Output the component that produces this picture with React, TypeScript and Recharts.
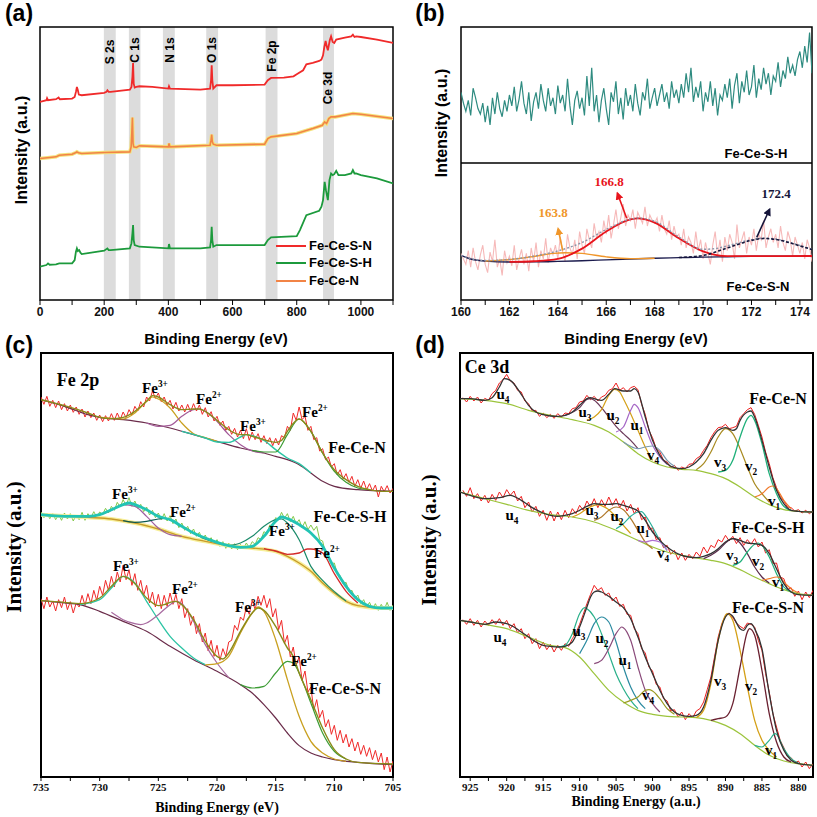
import React from 'react'
import { ComposedChart, Line, XAxis, YAxis, ReferenceArea } from 'recharts'

type Pair = [number, number]
const pts = (a: Pair[]) => a.map(([x, y]) => ({ x, y }))
const grid = (start: number, step: number, ys: number[]) =>
  ys.map((y, i) => ({ x: Math.round((start + i * step) * 100) / 100, y }))

const SANS = '"Liberation Sans", Arial, sans-serif'
const NARROW = '"Liberation Sans Narrow", "Liberation Sans", Arial, sans-serif'
const SERIF = '"Liberation Serif", "Times New Roman", serif'

// ---------- (a) survey spectra ----------
const surveyBands: Pair[] = [[199, 236], [277, 313], [383, 420], [518, 555], [703, 740], [882, 916]]
const surveySN: Pair[] = [[0,59.5],[20,60],[22,60.6],[25,60],[50,60.3],[58,60.8],[62,60.3],[100,60.5],[108,61],[112,62.5],[115,64],[118,63],[121,61.7],[130,61.5],[200,62.2],[207,62.5],[210,63],[214,62.5],[220,62.5],[280,63.2],[285,64],[288,67],[290,71.2],[292,65],[295,63.8],[300,64],[310,64.2],[350,64],[400,63.5],[402,64.2],[405,63.5],[500,63.2],[530,63.5],[533,66],[535,70.5],[537,66],[540,63.5],[550,64.5],[600,64.5],[700,64.7],[710,66],[720,66.7],[760,66.8],[790,67.2],[800,67.8],[820,69],[830,70.8],[850,71.2],[870,71.8],[877,72.2],[882,73.5],[886,76],[890,77.8],[894,76],[897,75],[903,78],[907,79.2],[912,77.5],[917,77.2],[923,78.2],[950,78.8],[970,79.2],[975,79.7],[980,79],[985,79.2],[1000,79],[1050,78.2],[1100,77.2]]
const surveySH: Pair[] = [[0,10],[20,10.5],[25,11],[30,10.6],[50,10.7],[60,11],[100,11],[108,12],[112,14.5],[115,15.5],[118,14.7],[122,15],[126,14.2],[130,13.8],[200,14.8],[210,15.5],[214,15],[220,15],[280,15.5],[285,17],[288,20],[290,22.5],[292,18],[295,16.5],[310,16],[400,15.5],[402,16.8],[405,15.5],[500,15.5],[530,15.8],[533,18],[535,22],[537,18],[540,16],[550,16.5],[700,16.5],[710,18],[720,18.8],[800,19.2],[810,21],[830,25.5],[870,26.8],[877,28],[882,30],[887,35.5],[891,33],[897,30],[902,36],[907,38],[912,37.5],[917,37.8],[923,38.8],[930,37.5],[950,37.5],[970,38],[975,39],[980,38],[985,38],[1000,37.5],[1050,36.5],[1100,35]]
const surveyN: Pair[] = [[0,42.5],[30,42.8],[50,43],[60,43.5],[100,43.8],[112,44.3],[115,44.5],[120,44.2],[130,44],[200,44.3],[280,44.5],[284,46],[286,50],[288,54.8],[290,47],[292,46],[300,45.8],[310,46.3],[400,46],[402,47],[405,46],[530,46.5],[533,48],[535,49.7],[537,47.5],[540,46.8],[550,46.5],[700,46.8],[710,48.5],[720,49],[800,50],[850,51.5],[880,52.5],[887,53.5],[893,53],[900,54.5],[907,55],[920,55],[975,56],[1000,55.8],[1100,54.5]]
const surveyTicks = [0,100,200,300,400,500,600,700,800,900,1000,1100]

// ---------- (b) S 2p ----------
const sHY = [
  52,44,38,46,35,55,48,40,36,44, 30,42,28,48,36,52,40,34,46,38,
  50,42,56,38,47,60,44,36,52,31, 45,52,40,58,46,38,55,42,48,36,
  57,44,50,38,62,42,28,46,53,40, 48,35,64,42,70,38,50,30,46,55,
  40,28,52,45,60,36,48,32,55,42, 50,38,58,44,35,52,46,62,40,48,
  55,42,50,58,45,52,40,60,48,54, 44,58,48,66,52,70,45,56,48,60,
  38,52,45,60,42,55,35,50,46,58, 48,62,40,57,66,44,60,52,68,50,
  56,72,48,62,54,70,58,66,50,64, 60,74,56,68,62,78,66,72,64,76,
  82,70,86,74,96,66]
const sNRawY = [
  34,30,26,36,24,38,28,22,33,40, 26,20,35,28,44,24,30,18,36,27,
  32,25,40,22,30,37,26,34,21,38, 28,42,24,36,30,45,27,38,33,40,
  30,46,35,28,48,38,33,44,30,50, 40,34,52,44,38,56,45,50,42,58,
  48,62,45,55,66,52,60,70,54,62, 58,66,52,64,60,56,68,54,62,58,
  56,60,50,62,52,48,58,44,54,46, 48,40,52,38,46,42,34,50,36,44,
  30,42,34,26,40,50,32,44,28,46, 36,48,42,30,55,38,44,50,34,46,
  40,52,36,48,44,58,38,46,52,42, 48,38,54,42,36,50,44,32,46,40,
  34,42,30,44,38,28]
const sBase: Pair[] = [[160,32.6],[160.3,30.5],[160.6,29.2],[161,28.4],[162,27.7],[163,27.8],[164,28.2],[165,28.7],[166,29.3],[167,29.9],[168,30.5],[169,30.9],[170,31.3],[171,31.6],[172,31.9],[173,32],[174.5,32.1]]
const s1638: Pair[] = [[161,28.5],[162,29.5],[163,31.8],[163.8,34],[164.3,34.5],[165,34],[166,31.5],[167,30.2],[168,30.5]]
const s1668: Pair[] = [[162,27.8],[163,28.3],[164,30],[165,37.5],[166,50],[167,58.8],[167.3,59.6],[168,56.5],[169,45],[170,35.5],[170.5,33],[171,32],[172,32],[174.5,32.1]]
const s1724: Pair[] = [[169,31],[170,32.5],[171,38],[172,43.5],[172.5,44.9],[173,44.2],[174,39.5],[174.5,36.8]]
const sEnv: Pair[] = [[160,32.6],[160.5,29.8],[161,28.8],[162,29.6],[163,32],[164,35.8],[165,42],[166,51.5],[167,59],[167.3,59.8],[168,57.5],[169,46],[170,37],[170.5,37.5],[171,39.5],[172,44],[172.5,45.2],[173,44.5],[174,39.8],[174.5,37]]
const sTicks = [160,161,162,163,164,165,166,167,168,169,170,171,172,173,174]

// ---------- (c) Fe 2p ----------
const feNRaw = [
  1140,1118,1142,1112,1130,1108,1128,1102,1120,1098, 1116,1094,1110,1088,1104,1080,1098,1078,1092,1070,
  1086,1066,1084,1068,1090,1070,1092,1072,1095,1078, 1102,1086,1112,1098,1126,1110,1140,1128,1158,1136,
  1152,1126,1140,1115,1130,1104,1124,1098,1116,1095, 1118,1096,1120,1098,1116,1088,1108,1080,1096,1068,
  1082,1055,1068,1040,1052,1028,1046,1020,1040,1015, 1045,1010,1035,1012,1030,1004,1024,1000,1018,994,
  1016,996,1024,1018,1052,1040,1092,1070,1110,1072, 1082,1040,1052,1012,1018,978,985,952,960,930,
  940,906,922,894,910,884,902,872,892,866, 888,862,880,858,876,840,872,856,874,852, 866]
const feNEnv: Pair[] = [[735,1132],[733,1114],[731,1092],[730,1079],[729,1075],[728,1079],[727,1097],[726,1127],[725.5,1144],[725,1140],[724,1117],[723,1102],[722,1104],[721.5,1104],[721,1097],[720,1070],[719,1042],[718,1027],[717.5,1027],[717,1022],[716,1012],[715,1004],[714.5,1010],[714,1037],[713,1074],[712,1037],[711,972],[710,922],[709,892],[708,872],[707,862],[706,857],[705,857]]
const feNBkg: Pair[] = [[735,1132],[733,1112],[731,1087],[730,1079],[728,1072],[726,1062],[724,1047],[722,1027],[720,1007],[718,987],[716,972],[715,962],[714,952],[713,937],[712,912],[711,887],[710,872],[708,862],[705,857]]
const feN3a: Pair[] = [[730,1080],[729,1076],[728,1074],[727,1092],[726,1127],[725.5,1140],[725,1134],[724,1107],[723,1062],[722,1030],[721,1018],[720,1007]]
const feN2a: Pair[] = [[726,1062],[725,1052],[724,1055],[723,1082],[722,1102],[721.5,1104],[721,1097],[720,1067],[719,1027],[718,997],[717,978],[716,972]]
const feN3b: Pair[] = [[723,1037],[722,1028],[721,1017],[720,1005],[719,1004],[718,1020],[717.5,1027],[717,1024],[716,1010],[715,982],[714,957],[713,940],[712,912]]
const feN2b: Pair[] = [[717,980],[716,975],[715,975],[714,1027],[713,1074],[712,1037],[711,972],[710,917],[709,884],[708,867],[707,862]]

const feSHRaw = [
  795,778,792,775,790,772,788,770,792,774, 790,768,786,772,794,770,790,778,796,780,
  795,788,806,792,812,800,824,810,832,815, 838,812,828,806,818,796,810,786,800,778,
  792,772,790,768,784,760,774,748,762,740, 752,730,744,722,734,712,726,706,718,698,
  712,692,706,686,702,684,700,682,698,684, 702,688,706,698,718,712,736,730,756,752,
  778,772,794,776,790,766,782,760,772,748, 766,742,756,740,752,712,708,672,668,640,
  642,610,604,580,584,556,560,536,546,520, 532,510,524,504,520,500,518,502,524,500, 516]
const feSHEnv: Pair[] = [[735,787],[733,782],[731,782],[730,787],[729,802],[728,817],[727.5,822],[727,817],[726,802],[725,782],[724.5,777],[724,772],[723,752],[722,732],[721,717],[720,704],[719,694],[718,689],[717,692],[716,722],[715,767],[714.5,780],[714,775],[713,757],[712,732],[711,692],[710,627],[709,572],[708,532],[707,512],[706,507],[705,507]]
const feSHBkg: Pair[] = [[735,787],[731,779],[729,774],[727,762],[725,744],[723,722],[721,707],[719,694],[717,687],[715,677],[714,662],[713,642],[712,617],[711,582],[710,552],[709,527],[708,514],[706,507],[705,507]]
const feSH3a: Pair[] = [[731,779],[730,787],[729,800],[728,817],[727,812],[726,782],[725,747],[724,727],[723,722]]
const feSH2a: Pair[] = [[728,769],[727,764],[726,767],[725,774],[724.5,776],[724,772],[723,752],[722,732],[721,714],[720,704]]
const feSH3b: Pair[] = [[719,694],[718,702],[717,722],[716,752],[715,772],[714.5,774],[714,762],[713,712],[712,632],[711,590],[710,556],[709,528]]
const feSH2b: Pair[] = [[716,685],[715,678],[714,668],[713,672],[712.3,684],[712,684],[711,672],[710,610],[709,557],[708,522]]

const feSNRaw = [
  535,505,540,510,528,498,532,508,540,502, 526,492,522,510,545,515,550,520,560,530,
  572,545,590,560,602,570,615,585,635,592, 622,575,610,560,590,545,575,522,555,510,
  548,505,545,512,552,518,548,505,535,478, 505,455,482,430,460,405,432,378,410,362,
  395,350,385,362,405,410,455,440,480,470, 510,488,530,502,542,515,545,508,535,480,
  505,442,470,400,425,360,390,335,360,290, 318,255,270,200,232,178,200,150,172,128,
  155,110,140,102,128,90,115,78,105,68, 95,62,88,52,80,45,72,22,60,15, 48]
const feSNEnv: Pair[] = [[735,529],[733,524],[731.7,520],[730,537],[729,572],[728,602],[727,580],[726,537],[725,514],[724.5,517],[724,524],[723.5,527],[723,517],[722,472],[721,407],[720,362],[719.5,354],[719,372],[718,437],[717,492],[716.5,507],[716,500],[715,452],[714,387],[713.5,362],[713,312],[712,232],[711,147],[710,82],[709,54],[708,44],[705,39]]
const feSNBkg: Pair[] = [[735,529],[733,522],[731.7,517],[730,497],[728,467],[726,437],[724,392],[722,352],[720,317],[718,277],[717,252],[716,217],[715,177],[714,132],[713,94],[712,72],[711,60],[710,52],[708,44],[705,37]]
const feSN3a: Pair[] = [[731.7,517],[730,532],[729,567],[728,602],[727,582],[726,527],[725,472],[724,422],[723,387],[722,357],[721,337]]
const feSN2a: Pair[] = [[729,494],[728,472],[727,460],[726.5,457],[726,462],[725,487],[724,517],[723.5,527],[723,520],[722,467],[721,397],[720,342],[719,298]]
const feSN3b: Pair[] = [[721,336],[720,340],[719,362],[718,432],[717,492],[716.5,510],[716,497],[715,412],[714,292],[713,182],[712,107],[711,72],[710,54],[709,47]]
const feSN2b: Pair[] = [[718,277],[717,267],[716,272],[715,312],[714,347],[713.5,342],[713,312],[712,222],[711,132],[710,77],[709,54]]
const feTicks = [705,707.5,710,712.5,715,717.5,720,722.5,725,727.5,730,732.5,735]

// ---------- (d) Ce 3d ----------
const ceNRaw = [
  1138,1125,1142,1128,1140,1122,1136,1130,1150,1160, 1182,1192,1208,1188,1182,1160,1155,1128,1120,1098,
  1100,1082,1092,1078,1088,1076,1090,1080,1092,1090, 1105,1108,1125,1128,1145,1132,1142,1128,1140,1145,
  1160,1165,1182,1160,1168,1155,1168,1172,1162,1118, 1088,1040,1018,985,975,950,945,928,935,920,
  930,925,938,940,955,962,980,995,1018,1035, 1048,1050,1058,1045,1048,1052,1078,1090,1102,1108,
  1088,1055,1020,975,940,898,868,842,828,810, 808,798,802,792,800,790,798]
const ceNEnv: Pair[] = [[926.4,1135],[925,1135],[923,1130],[922,1138],[921,1170],[920.3,1195],[919.5,1190],[918,1148],[917,1115],[916,1095],[915,1087],[914,1083],[913,1082],[912,1085],[911,1095],[910,1115],[909,1135],[908.5,1138],[908,1135],[907,1130],[906,1148],[905.2,1165],[904,1158],[903,1158],[902.5,1165],[902,1155],[901,1080],[900,1010],[899,965],[898,940],[897,928],[896,925],[895,930],[894,945],[893,970],[892,1010],[891,1040],[890,1048],[889,1040],[888.5,1045],[888,1070],[887,1095],[886.5,1098],[886,1080],[885,1010],[884,930],[883,860],[882,820],[881,800],[880,797],[878,795]]
const ceNBkg: Pair[] = [[926.4,1135],[923,1130],[920,1120],[917,1100],[914,1085],[911,1072],[908,1055],[906,1035],[904,1005],[902,970],[900,945],[898,930],[896,923],[894,920],[892,910],[890,895],[888,870],[886,840],[884,817],[882,802],[880,797],[878,795]]
const ceNu3: Pair[] = [[912,1085],[910,1108],[909,1133],[908.5,1135],[908,1130],[907,1108],[906,1080],[905,1052],[904,1030],[903,1010],[902,985]]
const ceNu2: Pair[] = [[909,1070],[908,1080],[907,1102],[906,1145],[905.2,1163],[904.5,1155],[904,1135],[903,1090],[902,1040],[901,990],[900,950]]
const ceNu1: Pair[] = [[905,1035],[904,1050],[903,1100],[902.5,1118],[902,1108],[901,1050],[900,995],[899,960],[898,938]]
const ceNv4: Pair[] = [[904,1005],[902,985],[901,990],[900,993],[899,980],[898,950],[897,932]]
const ceNv3: Pair[] = [[894,922],[893,940],[892,975],[891,1020],[890,1045],[889,1030],[888,985],[887,930],[886,880],[885,850],[884,825]]
const ceNv2: Pair[] = [[891,915],[890,920],[889,950],[888,1020],[887,1075],[886.5,1085],[886,1070],[885,1000],[884,910],[883,850],[882,812],[881,800]]
const ceNv1: Pair[] = [[886,840],[885,850],[884,870],[883.5,873],[883,865],[882,830],[881,805]]

const ceSHRaw = [
  860,842,868,835,850,828,845,822,848,830, 855,838,862,845,858,828,842,808,825,795,
  812,782,800,770,798,768,795,772,800,778, 805,790,815,800,828,810,835,808,832,812,
  840,815,835,808,830,798,818,790,808,772, 780,742,748,712,718,688,695,668,680,652,
  672,650,668,655,675,662,690,672,695,688, 712,705,725,708,722,700,718,695,712,698,
  715,690,705,672,682,640,642,600,595,562, 568,542,558,532,555,538,560]
const ceSHEnv: Pair[] = [[926.4,855],[925,845],[923,835],[921,838],[919.5,845],[918,830],[917,815],[916,802],[915,792],[914,785],[913,782],[912,785],[911,790],[910,800],[909,812],[908,820],[907,818],[906,818],[905,820],[904,815],[903,808],[902,798],[901,770],[900,735],[899,710],[898,690],[897,675],[896,665],[895,660],[894,658],[893,662],[892,670],[891,685],[890,705],[889,715],[888,710],[887,702],[886,700],[885,695],[884,670],[883,625],[882,580],[881,555],[880,547],[878,545]]
const ceSHBkg: Pair[] = [[926.4,855],[923,835],[920,818],[917,800],[914,787],[911,780],[908,765],[905,740],[902,710],[900,690],[898,675],[896,665],[894,657],[892,650],[890,640],[888,622],[886,600],[884,580],[882,562],[880,550],[878,545]]
const ceSHu3: Pair[] = [[911,780],[910,790],[909,805],[908,815],[907.5,817],[907,814],[906,802],[905,780],[904,755],[903,730]]
const ceSHu2: Pair[] = [[908,770],[907,780],[906,800],[905,810],[904,802],[903,775],[902,740],[901,705],[900,685]]
const ceSHu1: Pair[] = [[905,745],[904,760],[903,782],[902,795],[901.5,796],[901,785],[900,750],[899,710],[898,680]]
const ceSHv4: Pair[] = [[902,710],[901,705],[900,710],[899,705],[898,680]]
const ceSHv3: Pair[] = [[893,655],[892,665],[891,680],[890,702],[889,715],[888,702],[887,670],[886,630],[885,600],[884,582]]
const ceSHv2: Pair[] = [[889,635],[888,645],[887,675],[886,698],[885.5,702],[885,695],[884,660],[883,610],[882,570],[881,555]]
const ceSHv1: Pair[] = [[885,590],[884,595],[883,600],[882.5,598],[882,585],[881,565],[880,552]]

const ceSNRaw = [
  472,458,475,455,470,450,468,455,472,458, 475,455,470,445,460,432,445,415,430,400,
  415,385,405,382,398,375,395,380,400,392, 415,432,458,488,520,548,575,560,568,545,
  552,528,540,512,518,488,485,445,430,385, 372,330,318,278,270,235,228,198,202,180,
  195,172,190,178,198,205,225,262,300,360, 420,460,485,492,478,462,452,445,462,458,
  450,410,380,310,255,190,150,110,88,62, 58,42,48,30,45,25,40]
const ceSNEnv: Pair[] = [[926.4,470],[925,465],[923,458],[921.5,465],[920,460],[919,450],[918,435],[917,420],[916,405],[915,395],[914,392],[913,390],[912,392],[911,405],[910,450],[909,510],[908.5,540],[908,555],[907.5,558],[907,555],[906,542],[905,525],[904,508],[903,475],[902,420],[901,360],[900,310],[899,260],[898,220],[897,195],[896,185],[895,182],[894,185],[893,210],[892,290],[891,410],[890,480],[889.5,490],[889,482],[888,445],[887.5,440],[887,455],[886.5,460],[886,445],[885,385],[884,250],[883,140],[882,80],[881,50],[880,40],[878,35]]
const ceSNBkg: Pair[] = [[926.4,470],[923,458],[920,445],[917,420],[914,395],[912,388],[910,360],[908,310],[906,260],[904,225],[902,200],[900,188],[898,182],[896,180],[894,178],[892,170],[890,155],[888,130],[886,95],[884,65],[882,48],[880,40],[878,35]]
const ceSNu3: Pair[] = [[913,390],[912,395],[911,430],[910,490],[909.3,508],[909,505],[908,480],[907,430],[906,370],[905,310],[904,265],[903,230],[902,205]]
const ceSNu2: Pair[] = [[910,370],[909,410],[908,460],[907,480],[906,465],[905,405],[904,330],[903,270],[902,230],[901,205]]
const ceSNu1: Pair[] = [[908,340],[907,350],[906,385],[905,430],[904.2,450],[904,448],[903,410],[902,330],[901,260],[900,220],[899,195]]
const ceSNv4: Pair[] = [[904,222],[903,230],[902,240],[901,260],[900.5,262],[900,258],[899,235],[898,205],[897,188]]
const ceSNv3: Pair[] = [[894,178],[893,200],[892,280],[891,410],[890,485],[889.8,490],[889,470],[888,380],[887,270],[886,170],[885,110],[884,80],[883,60]]
const ceSNv2: Pair[] = [[892,170],[891,175],[890,180],[889,220],[888,330],[887,435],[886.7,445],[886,425],[885,320],[884,190],[883,105],[882,60],[881,45]]
const ceSNv1: Pair[] = [[886,95],[885,90],[884,110],[883.2,130],[883,128],[882,85],[881,55],[880,42]]
const ceTicks = [880,882.5,885,887.5,890,892.5,895,897.5,900,902.5,905,907.5,910,912.5,915,917.5,920,922.5,925]

const ln = (key: string, data: any[], stroke: string, w = 1.2, curve: any = 'monotone', extra: any = {}) => (
  <Line key={key} data={data} dataKey="y" type={curve} dot={false} activeDot={false}
    stroke={stroke} strokeWidth={w} isAnimationActive={false} {...extra} />
)

function T({ x, y, s, f = SERIF, c = '#000', w = 700, r = 0, children }: any) {
  return (
    <div style={{
      position: 'absolute', left: x, top: y, transform: `translate(-50%,-50%) rotate(${r}deg)`,
      fontSize: s, fontFamily: f, color: c, fontWeight: w, whiteSpace: 'nowrap', lineHeight: 1.2,
    }}>{children}</div>
  )
}
const sup = (t: string) => <sup style={{ fontSize: '0.62em' }}>{t}</sup>
const sub = (t: string) => <sub style={{ fontSize: '0.62em' }}>{t}</sub>
const Fe = (ox: string) => <>Fe{sup(ox)}</>

const frame = (x1: number, x2: number, y1: number, y2: number, w = 1.5) => (
  <ReferenceArea x1={x1} x2={x2} y1={y1} y2={y2} fill="none" stroke="#000" strokeWidth={w} ifOverflow="visible" />
)

const sansTick = { fontSize: 12, fontWeight: 700, fill: '#111', fontFamily: NARROW }
const serifTick = { fontSize: 11, fontWeight: 700, fill: '#111', fontFamily: SERIF }

export default function App() {
  const abs = (l: number, t: number) => ({ position: 'absolute' as const, left: l, top: t })
  return (
    <div style={{ position: 'absolute', left: 0, top: 0, width: 817, height: 817, background: '#fff', overflow: 'hidden' }}>
      {/* (a) */}
      <div style={abs(0, 0)}>
        <ComposedChart width={410} height={330} margin={{ top: 27, right: 17, bottom: 0, left: 40 }}>
          <XAxis type="number" dataKey="x" domain={[0, 1100]} ticks={surveyTicks} allowDataOverflow
            height={30} axisLine={false} tickLine={{ stroke: '#000' }} tickSize={5}
            tickFormatter={(v: number) => (v % 200 === 0 && v <= 1000 ? String(v) : '')} tick={sansTick} />
          <YAxis type="number" domain={[0, 82]} hide allowDataOverflow />
          {surveyBands.map(([a, b], i) => (
            <ReferenceArea key={'band' + i} x1={a} x2={b} y1={0} y2={82} fill="#dcdcdc" fillOpacity={1} stroke="none" />
          ))}
          {ln('nGlow', pts(surveyN), '#f4e27c', 3.5, 'linear')}
          {ln('n', pts(surveyN), '#f28446', 1.6, 'linear')}
          {ln('sn', pts(surveySN), '#f02a2a', 1.8, 'linear')}
          {ln('sh', pts(surveySH), '#1c9a3c', 1.8, 'linear')}
          {frame(0, 1100, 0, 82)}
        </ComposedChart>
      </div>

      {/* (b) top */}
      <div style={abs(410, 0)}>
        <ComposedChart width={407} height={163} margin={{ top: 27, right: 5, bottom: 0, left: 51 }}>
          <XAxis type="number" dataKey="x" domain={[160, 174.5]} hide allowDataOverflow />
          <YAxis type="number" domain={[0, 100]} hide allowDataOverflow />
          {ln('sh', grid(160, 0.1, sHY), '#2e8b80', 1.2, 'linear')}
          {frame(160, 174.5, 0, 100)}
        </ComposedChart>
      </div>
      {/* (b) bottom */}
      <div style={abs(410, 163)}>
        <ComposedChart width={407} height={167} margin={{ top: 0, right: 5, bottom: 0, left: 51 }}>
          <XAxis type="number" dataKey="x" domain={[160, 174.5]} ticks={sTicks} allowDataOverflow
            height={30} axisLine={false} tickLine={{ stroke: '#000' }} tickSize={5}
            tickFormatter={(v: number) => (v % 2 === 0 ? String(v) : '')} tick={sansTick} />
          <YAxis type="number" domain={[0, 100]} hide allowDataOverflow />
          {ln('raw', grid(160, 0.1, sNRawY), '#f6b9b9', 1.1, 'linear')}
          {ln('base', pts(sBase), '#1c1c4e', 1.4)}
          {ln('p1', pts(s1638), '#f0962a', 1.4)}
          {ln('p2', pts(s1668), '#e8141c', 1.8)}
          {ln('env', pts(sEnv), '#8a94a8', 1.4, 'monotone', { strokeDasharray: '2 2' })}
          {ln('p3', pts(s1724), '#15153a', 1.6, 'monotone', { strokeDasharray: '3 2' })}
          {frame(160, 174.5, 0, 100)}
        </ComposedChart>
      </div>

      {/* (c) */}
      <div style={abs(0, 350)}>
        <ComposedChart width={410} height={467} margin={{ top: 3, right: 17, bottom: 0, left: 41 }}>
          <XAxis type="number" dataKey="x" domain={[705, 735]} reversed ticks={feTicks} allowDataOverflow
            height={40} axisLine={false} tickLine={{ stroke: '#000' }} tickSize={4}
            tickFormatter={(v: number) => (v % 5 === 0 ? String(v) : '')} tick={serifTick} />
          <YAxis type="number" domain={[0, 1272]} hide allowDataOverflow />
          {ln('nr', grid(735, -0.25, feNRaw), '#f02a2a', 1, 'linear')}
          {ln('nb', pts(feNBkg), '#6a2c4a')}
          {ln('n3a', pts(feN3a), '#c9a020')}
          {ln('n2a', pts(feN2a), '#a35a98')}
          {ln('n3b', pts(feN3b), '#2cc4a4', 1.4)}
          {ln('n2b', pts(feN2b), '#3c9c34')}
          {ln('ne', pts(feNEnv), '#8a8a1a', 1.4)}

          {ln('hr', grid(735, -0.25, feSHRaw), '#84c84a', 1, 'linear')}
          {ln('hbg', pts(feSHBkg), '#f7ef9a', 4)}
          {ln('hb', pts(feSHBkg), '#c89a2a', 1.3)}
          {ln('h3a', pts(feSH3a), '#a060a0')}
          {ln('h2a', pts(feSH2a), '#0e5a50')}
          {ln('h3b', pts(feSH3b), '#1a8a6a')}
          {ln('h2b', pts(feSH2b), '#d42a2a', 1.3)}
          {ln('he', pts(feSHEnv), '#22c4b4', 2.8)}

          {ln('sr', grid(735, -0.25, feSNRaw), '#f02a2a', 1, 'linear')}
          {ln('sb', pts(feSNBkg), '#6a2c4a')}
          {ln('s3a', pts(feSN3a), '#2cc4a4', 1.3)}
          {ln('s2a', pts(feSN2a), '#a86aa0')}
          {ln('s3b', pts(feSN3b), '#c9a020', 1.3)}
          {ln('s2b', pts(feSN2b), '#3c9c34')}
          {ln('se', pts(feSNEnv), '#8a8a1a', 1.4)}
          {frame(705, 735, 0, 1272, 2)}
        </ComposedChart>
      </div>

      {/* (d) */}
      <div style={abs(410, 350)}>
        <ComposedChart width={407} height={467} margin={{ top: 3, right: 4, bottom: 0, left: 50 }}>
          <XAxis type="number" dataKey="x" domain={[878, 926.4]} reversed ticks={ceTicks} allowDataOverflow
            height={40} axisLine={false} tickLine={{ stroke: '#000' }} tickSize={4}
            tickFormatter={(v: number) => (v % 5 === 0 ? String(v) : '')} tick={serifTick} />
          <YAxis type="number" domain={[0, 1272]} hide allowDataOverflow />
          {ln('nr', grid(926, -0.5, ceNRaw), '#ee2020', 1, 'linear')}
          {ln('nb', pts(ceNBkg), '#9cc43c')}
          {ln('nu3', pts(ceNu3), '#6b3a5a')}
          {ln('nu2', pts(ceNu2), '#d4a017')}
          {ln('nu1', pts(ceNu1), '#a566c6')}
          {ln('nv4', pts(ceNv4), '#7a9ab0')}
          {ln('nv3', pts(ceNv3), '#a88a20')}
          {ln('nv2', pts(ceNv2), '#1fb07a', 1.3)}
          {ln('nv1', pts(ceNv1), '#f07a2a')}
          {ln('ne', pts(ceNEnv), '#333', 1.3)}

          {ln('hr', grid(926, -0.5, ceSHRaw), '#ee2020', 1, 'linear')}
          {ln('hb', pts(ceSHBkg), '#9cc43c')}
          {ln('hu3', pts(ceSHu3), '#d4a017')}
          {ln('hu2', pts(ceSHu2), '#b0782a')}
          {ln('hu1', pts(ceSHu1), '#2ab09a')}
          {ln('hv4', pts(ceSHv4), '#b070d0')}
          {ln('hv3', pts(ceSHv3), '#5a2a4a')}
          {ln('hv2', pts(ceSHv2), '#1fb07a')}
          {ln('hv1', pts(ceSHv1), '#f07a2a')}
          {ln('he', pts(ceSHEnv), '#333', 1.3)}

          {ln('sr', grid(926, -0.5, ceSNRaw), '#ee2020', 1, 'linear')}
          {ln('sb', pts(ceSNBkg), '#9cc43c')}
          {ln('su3', pts(ceSNu3), '#2ab08a')}
          {ln('su2', pts(ceSNu2), '#2a8aa0')}
          {ln('su1', pts(ceSNu1), '#8a4a7a')}
          {ln('sv4', pts(ceSNv4), '#9a9a20')}
          {ln('sv3', pts(ceSNv3), '#d4a017', 1.3)}
          {ln('sv2', pts(ceSNv2), '#6a2030', 1.3)}
          {ln('sv1', pts(ceSNv1), '#2ab08a')}
          {ln('se', pts(ceSNEnv), '#333', 1.3)}
          {frame(878, 926.4, 0, 1272, 2)}
        </ComposedChart>
      </div>

      {/* (b) arrows */}
      <svg width={817} height={817} style={{ position: 'absolute', left: 0, top: 0, pointerEvents: 'none' }}>
        <defs>
          {[['ar', '#e8141c'], ['an', '#15153a'], ['ao', '#f0962a']].map(([id, c]) => (
            <marker key={id} id={id} markerWidth={8} markerHeight={8} refX={6} refY={4} orient="auto" markerUnits="userSpaceOnUse">
              <path d="M0,0 L8,4 L0,8 Z" fill={c} />
            </marker>
          ))}
        </defs>
        <line x1={626.7} y1={218.3} x2={617.5} y2={193.5} stroke="#e8141c" strokeWidth={1.6} markerEnd="url(#ar)" />
        <line x1={756.7} y1={237.3} x2={769.5} y2={209.5} stroke="#15153a" strokeWidth={1.6} markerEnd="url(#an)" />
        <line x1={562.7} y1={250.7} x2={558.2} y2={229} stroke="#f0962a" strokeWidth={1.6} markerEnd="url(#ao)" />
      </svg>

      {/* texts (a) */}
      <T x={19} y={14} s={23} f={SANS}>(a)</T>
      <T x={22} y={150} s={16} f={SANS} r={-90}>Intensity (a.u.)</T>
      <T x={216} y={339} s={15} f={SANS}>Binding Energy (eV)</T>
      <T x={110} y={52} s={12} f={SANS} r={-90}>S 2s</T>
      <T x={135} y={50} s={12} f={SANS} r={-90}>C 1s</T>
      <T x={170} y={50} s={12} f={SANS} r={-90}>N 1s</T>
      <T x={212} y={50} s={12} f={SANS} r={-90}>O 1s</T>
      <T x={272} y={56} s={12} f={SANS} r={-90}>Fe 2p</T>
      <T x={328} y={88} s={12} f={SANS} r={-90}>Ce 3d</T>
      {[['Fe-Ce-S-N', '#f02a2a', 246], ['Fe-Ce-S-H', '#1c9a3c', 263], ['Fe-Ce-N', '#f28446', 281]].map(([t, c, y]) => (
        <React.Fragment key={t as string}>
          <div style={{ position: 'absolute', left: 276, top: (y as number) - 1, width: 30, height: 2, background: c as string }} />
          <div style={{ position: 'absolute', left: 309, top: (y as number) - 8, fontSize: 13, fontWeight: 700, fontFamily: SANS, lineHeight: '16px' }}>{t}</div>
        </React.Fragment>
      ))}

      {/* texts (b) */}
      <T x={430} y={14} s={23} f={SANS}>(b)</T>
      <T x={442} y={123} s={16} f={SANS} r={-90}>Intensity (a.u.)</T>
      <T x={636} y={339} s={15} f={SANS}>Binding Energy (eV)</T>
      <T x={756} y={154} s={13} f={SANS}>Fe-Ce-S-H</T>
      <T x={758} y={287} s={13} f={SANS}>Fe-Ce-S-N</T>
      <T x={609} y={182} s={13} c="#e8141c">166.8</T>
      <T x={776} y={194} s={13} c="#15153a">172.4</T>
      <T x={553} y={213} s={13} c="#f0962a">163.8</T>

      {/* texts (c) */}
      <T x={19} y={346} s={23} f={SANS}>(c)</T>
      <T x={15} y={547} s={21} r={-90}>Intensity (a.u.)</T>
      <T x={217} y={808} s={14}>Binding Energy (eV)</T>
      <T x={78} y={381} s={18}>Fe 2p</T>
      <T x={155} y={388} s={15}>{Fe('3+')}</T>
      <T x={209} y={399} s={15}>{Fe('2+')}</T>
      <T x={253} y={426} s={15}>{Fe('3+')}</T>
      <T x={315} y={412} s={15}>{Fe('2+')}</T>
      <T x={357} y={448} s={16}>Fe-Ce-N</T>
      <T x={125} y={494} s={15}>{Fe('3+')}</T>
      <T x={183} y={512} s={15}>{Fe('2+')}</T>
      <T x={350} y={517} s={16}>Fe-Ce-S-H</T>
      <T x={282} y={531} s={15}>{Fe('3+')}</T>
      <T x={327} y={553} s={15}>{Fe('2+')}</T>
      <T x={126} y={566} s={15}>{Fe('3+')}</T>
      <T x={185} y={589} s={15}>{Fe('2+')}</T>
      <T x={248} y={607} s={15}>{Fe('3+')}</T>
      <T x={304} y={661} s={15}>{Fe('2+')}</T>
      <T x={345} y={689} s={16}>Fe-Ce-S-N</T>

      {/* texts (d) */}
      <T x={430} y={346} s={23} f={SANS}>(d)</T>
      <T x={430} y={540} s={21} r={-90}>Intensity (a.u.)</T>
      <T x={636} y={802} s={14}>Binding Energy (a.u.)</T>
      <T x={487} y={368} s={18}>Ce 3d</T>
      <T x={778} y={399} s={16}>Fe-Ce-N</T>
      <T x={768} y={528} s={16}>Fe-Ce-S-H</T>
      <T x={768} y={608} s={16}>Fe-Ce-S-N</T>
      {([
        ['u', '4', 503, 396], ['u', '3', 585, 414], ['u', '2', 613, 417], ['u', '1', 637, 427],
        ['v', '4', 653, 457], ['v', '3', 720, 464], ['v', '2', 751, 468], ['v', '1', 774, 503],
        ['u', '4', 512, 517], ['u', '3', 592, 512], ['u', '2', 617, 518], ['u', '1', 643, 530],
        ['v', '4', 663, 555], ['v', '3', 732, 557], ['v', '2', 758, 563], ['v', '1', 778, 584],
        ['u', '4', 500, 639], ['u', '3', 579, 633], ['u', '2', 602, 640], ['u', '1', 625, 662],
        ['v', '4', 648, 697], ['v', '3', 720, 683], ['v', '2', 751, 688], ['v', '1', 771, 752],
      ] as [string, string, number, number][]).map(([l, n, x, y], i) => (
        <T key={'uv' + i} x={x} y={y} s={15}>{l}{sub(n)}</T>
      ))}
    </div>
  )
}
